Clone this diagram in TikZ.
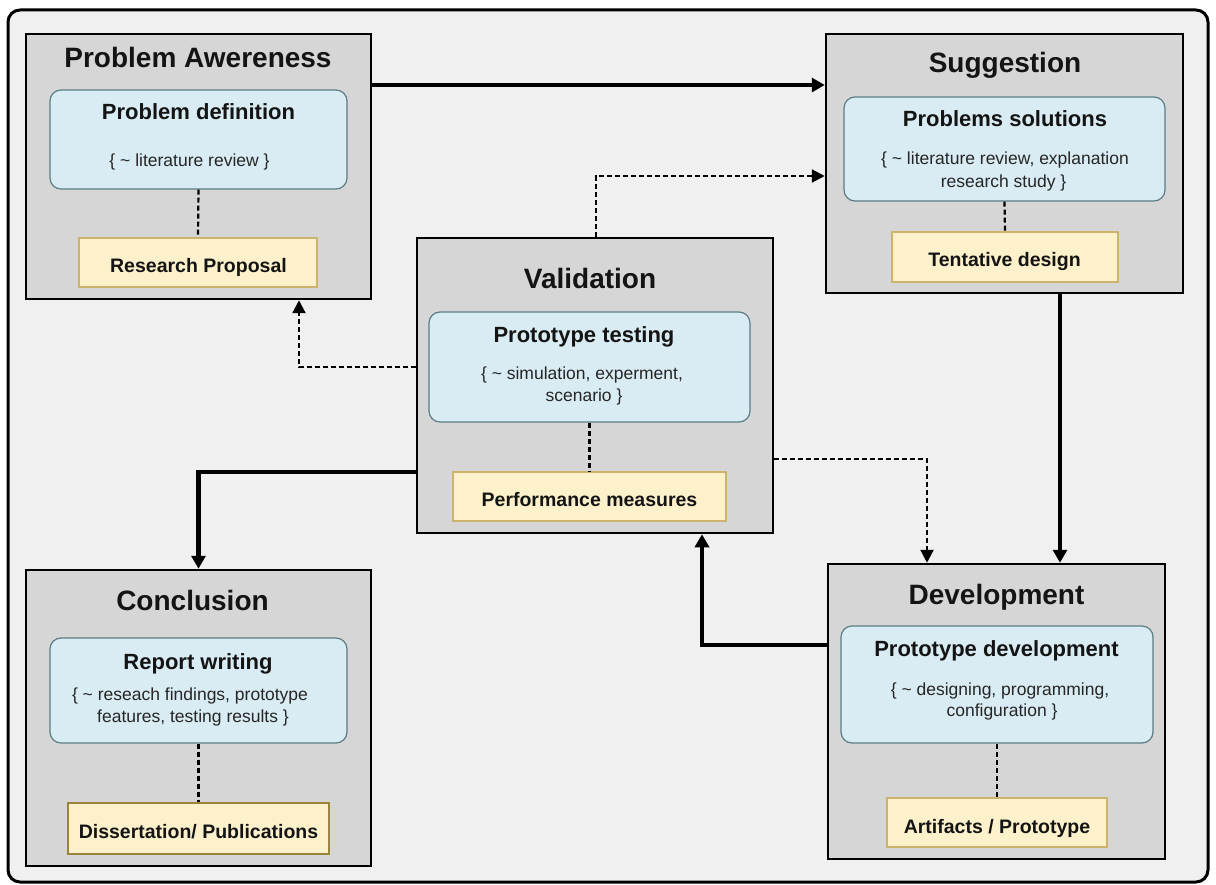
\documentclass[tikz,border=0pt]{standalone}
\usepackage{fontspec}
\setmainfont{Liberation Sans}
\usetikzlibrary{arrows.meta}

\definecolor{canvas}{HTML}{F0F0F0}
\definecolor{stagefill}{HTML}{D6D6D6}
\definecolor{taskfill}{HTML}{D9ECF3}
\definecolor{taskline}{HTML}{5B7D85}
\definecolor{outfill}{HTML}{FDF1CC}
\definecolor{outline}{HTML}{CDB36C}
\definecolor{outlinedark}{HTML}{9C8438}
\definecolor{ink}{HTML}{141414}
\definecolor{softink}{HTML}{262626}

\tikzset{
  stage/.style={draw=black, line width=2.5pt, fill=stagefill, rectangle, inner sep=0pt},
  task/.style={draw=taskline, line width=1.2pt, fill=taskfill, rectangle, rounded corners=11pt, inner sep=0pt},
  output/.style={draw=outline, line width=1.3pt, fill=outfill, rectangle, inner sep=0pt},
  stagetitle/.style={anchor=base, inner sep=0pt, text=ink, font=\fontsize{28}{32}\selectfont\bfseries},
  tasktitle/.style={anchor=base, inner sep=0pt, text=ink, font=\fontsize{22}{26}\selectfont\bfseries},
  tasknote/.style={anchor=base, inner sep=0pt, text=softink, font=\fontsize{17.5}{21}\selectfont},
  outtext/.style={anchor=base, inner sep=0pt, text=ink, font=\fontsize{19.5}{23}\selectfont\bfseries},
  link/.style={line width=2.2pt, dash pattern=on 5pt off 3pt},
  flow/.style={line width=4.5pt, -{Triangle[length=13pt,width=14pt]}},
  hint/.style={line width=2.2pt, dash pattern=on 5pt off 3pt, -{Triangle[length=13pt,width=13pt]}},
}

\begin{document}
\begin{tikzpicture}[x=1pt, y=-1pt]
\useasboundingbox (0,0) rectangle (1216,885);
\fill[white] (0,0) rectangle (1216,885);
\draw[line width=3pt, fill=canvas, rounded corners=12pt] (8,10) rectangle (1208,882);

% Problem awareness
\node[stage, minimum width=345pt, minimum height=265pt] (pa) at (198.5,166.5) {};
\node[stagetitle] (paT) at (198,68) {Problem Awereness};
\node[task, minimum width=297pt, minimum height=99pt] (pd) at (198.5,139.5) {};
\node[tasktitle] (pdT) at (198.5,120) {Problem definition};
\node[tasknote] (pdN) at (189.5,167) {\{ \textasciitilde{} literature review \}};
\node[output, minimum width=238pt, minimum height=49pt] (rp) at (198,262.5) {};
\node[outtext] (rpT) at (198.5,273) {Research Proposal};
\draw[link] (pd.south) -- (rp.north);

% Suggestion
\node[stage, minimum width=357pt, minimum height=259pt] (sg) at (1004.5,163.5) {};
\node[stagetitle] (sgT) at (1005,73) {Suggestion};
\node[task, minimum width=321pt, minimum height=104pt] (ps) at (1004.5,149) {};
\node[tasktitle] (psT) at (1005,127) {Problems solutions};
\node[tasknote] (psN1) at (1005,165) {\{ \textasciitilde{} literature review, explanation};
\node[tasknote] (psN2) at (1003.5,188) {research study \}};
\node[output, minimum width=226pt, minimum height=50pt] (td) at (1005,257) {};
\node[outtext] (tdT) at (1004.5,267) {Tentative design};
\draw[link] (ps.south) -- (td.north);

% Validation
\node[stage, minimum width=356pt, minimum height=295pt] (val) at (595,385.5) {};
\node[stagetitle] (valT) at (590,289) {Validation};
\node[task, minimum width=321pt, minimum height=110pt] (pt) at (589.5,367) {};
\node[tasktitle] (ptT) at (584,343) {Prototype testing};
\node[tasknote] (ptN1) at (582,380) {\{ \textasciitilde{} simulation, experment,};
\node[tasknote] (ptN2) at (584,401) {scenario \}};
\node[output, minimum width=273pt, minimum height=49pt] (pm) at (589.5,496.5) {};
\node[outtext] (pmT) at (589.5,506) {Performance measures};
\draw[link] (pt.south) -- (pm.north);

% Conclusion
\node[stage, minimum width=345pt, minimum height=296pt] (cc) at (198.5,718) {};
\node[stagetitle] (ccT) at (192.5,610) {Conclusion};
\node[task, minimum width=297pt, minimum height=105pt] (rw) at (198.5,690.5) {};
\node[tasktitle] (rwT) at (198,669) {Report writing};
\node[tasknote] (rwN1) at (190,700) {\{ \textasciitilde{} reseach findings, prototype};
\node[tasknote] (rwN2) at (193,722) {features, testing results \}};
\node[output, draw=outlinedark, line width=2pt, minimum width=261pt, minimum height=51pt] (dp) at (198.5,828.5) {};
\node[outtext] (dpT) at (198.5,838) {Dissertation/ Publications};
\draw[link] (rw.south) -- (dp.north);

% Development
\node[stage, minimum width=337pt, minimum height=295pt] (dev) at (996.5,711.5) {};
\node[stagetitle] (devT) at (996.5,604) {Development};
\node[task, minimum width=312pt, minimum height=117pt] (pdv) at (997,684.5) {};
\node[tasktitle] (pdvT) at (996.5,656) {Prototype development};
\node[tasknote] (pdvN1) at (1000,695) {\{ \textasciitilde{} designing, programming,};
\node[tasknote] (pdvN2) at (1002,716) {configuration \}};
\node[output, minimum width=220pt, minimum height=49pt] (ap) at (997,822.5) {};
\node[outtext] (apT) at (997,833) {Artifacts / Prototype};
\draw[link] (pdv.south) -- (ap.north);

% Flow between stages
\draw[flow] (pa.east |- 0,85) -- (sg.west |- 0,85);
\draw[flow] (sg.south -| 1060,0) -- (dev.north -| 1060,0);
\draw[flow] (dev.west |- 0,645) -| (val.south -| 702,0);
\draw[flow] (val.west |- 0,472) -| (cc.north);
\draw[hint] (val.north -| 596,0) |- (sg.west |- 0,176);
\draw[hint] (val.west |- 0,367) -| (pa.south -| 299,0);
\draw[hint] (val.east |- 0,459) -| (dev.north -| 927,0);
\end{tikzpicture}
\end{document}
